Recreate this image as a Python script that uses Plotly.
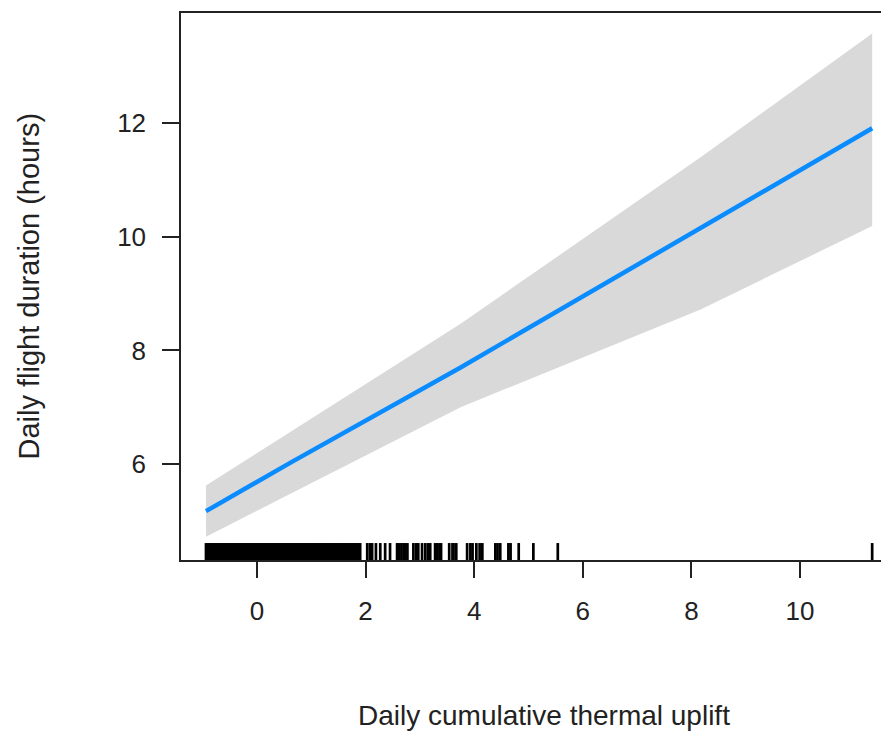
import plotly.graph_objects as go

# Fitted effect of thermal uplift on daily flight duration
fit_x = [-0.94, 0.61, 3.75, 8.17, 11.33]
fit_y = [5.17, 6.02, 7.70, 10.16, 11.91]
band_x = [-0.94, 3.75, 8.17, 11.33]
band_upper = [5.62, 8.47, 11.40, 13.58]
band_lower = [4.72, 7.00, 8.72, 10.19]

# Observed uplift values (rug)
rug_dense_1 = [-0.94, -0.91, -0.88, -0.85, -0.82, -0.79, -0.76, -0.73, -0.70, -0.67,
               -0.64, -0.61, -0.58, -0.55, -0.52, -0.49, -0.46, -0.43, -0.40, -0.37,
               -0.34, -0.31, -0.28, -0.25, -0.22, -0.19, -0.16, -0.13, -0.10, -0.07,
               -0.04, -0.01, 0.02, 0.05, 0.08, 0.11, 0.14, 0.17, 0.20, 0.23, 0.26,
               0.29, 0.32, 0.35, 0.38, 0.41, 0.44, 0.47, 0.50, 0.53, 0.56, 0.59,
               0.62, 0.65, 0.68, 0.71, 0.74, 0.77, 0.80, 0.83, 0.86, 0.89, 0.92, 0.94]
rug_dense_2 = [0.98, 1.01, 1.04, 1.07, 1.10, 1.13, 1.16, 1.19, 1.20]
rug_dense_3 = [1.24, 1.27, 1.30, 1.33, 1.36, 1.39, 1.42, 1.45, 1.48, 1.51, 1.54,
               1.57, 1.60, 1.63, 1.66, 1.69, 1.72, 1.75, 1.78, 1.81, 1.84, 1.86]
rug_sparse = [1.90, 2.03, 2.08, 2.12, 2.19, 2.27, 2.36, 2.45, 2.58, 2.62, 2.66, 2.70,
              2.73, 2.77, 2.88, 2.93, 2.97, 3.04, 3.10, 3.15, 3.19, 3.28, 3.32, 3.36,
              3.39, 3.54, 3.60, 3.62, 3.67, 3.87, 3.93, 3.97, 4.04, 4.10, 4.15, 4.39,
              4.43, 4.48, 4.63, 4.67, 4.82, 5.09, 5.54, 11.33]
rug_x = rug_dense_1 + rug_dense_2 + rug_dense_3 + rug_sparse

x_ticks = [0, 2, 4, 6, 8, 10]
y_ticks = [6, 8, 10, 12]

FONT = "Liberation Sans, Arial, sans-serif"
TXT = "#222222"
AX = "#222222"

fig = go.Figure()

fig.add_trace(go.Scatter(
    x=band_x + band_x[::-1], y=band_upper + band_lower[::-1],
    fill="toself", fillcolor="#D9D9D9", line=dict(width=0), mode="lines",
    hoverinfo="skip", showlegend=False))

fig.add_trace(go.Scatter(
    x=fit_x, y=fit_y, mode="lines",
    line=dict(color="#0A8CFF", width=4.5), showlegend=False))

rx, ry = [], []
for v in rug_x:
    rx += [v, v, None]
    ry += [0, 0.031, None]
fig.add_trace(go.Scatter(
    x=rx, y=ry, mode="lines", yaxis="y2",
    line=dict(color="black", width=2.7), showlegend=False, hoverinfo="skip"))

fig.update_layout(
    width=881, height=723,
    margin=dict(l=173, r=0, t=5, b=171),
    paper_bgcolor="white", plot_bgcolor="white",
    font=dict(family=FONT, size=26, color=TXT),
    xaxis=dict(range=[-1.40, 11.64], tickvals=x_ticks, ticks="outside", ticklen=16,
               tickwidth=1.5, tickcolor=AX, showline=True, linecolor=AX, linewidth=1.5,
               mirror=True, showgrid=False, zeroline=False, ticklabelstandoff=11,
               tickfont=dict(family=FONT, size=26, color=TXT)),
    yaxis=dict(range=[4.31, 13.94], tickvals=y_ticks, ticks="outside", ticklen=17,
               tickwidth=1.5, tickcolor=AX, showline=True, linecolor=AX, linewidth=1.5,
               showgrid=False, zeroline=False, ticklabelstandoff=11,
               tickfont=dict(family=FONT, size=26, color=TXT)),
    yaxis2=dict(range=[0, 1], overlaying="y", visible=False, fixedrange=True),
    annotations=[
        dict(text="Daily cumulative thermal uplift", xref="paper", yref="paper",
             x=(544 - 181) / 708, y=-0.285, xanchor="center", yanchor="middle",
             showarrow=False, font=dict(family=FONT, size=28, color=TXT)),
        dict(text="Daily flight duration (hours)", xref="paper", yref="paper",
             x=(28 - 181) / 708, y=0.5, xanchor="center", yanchor="middle",
             showarrow=False, textangle=-90,
             font=dict(family=FONT, size=29, color=TXT)),
    ],
)

fig.write_html("out.html")
